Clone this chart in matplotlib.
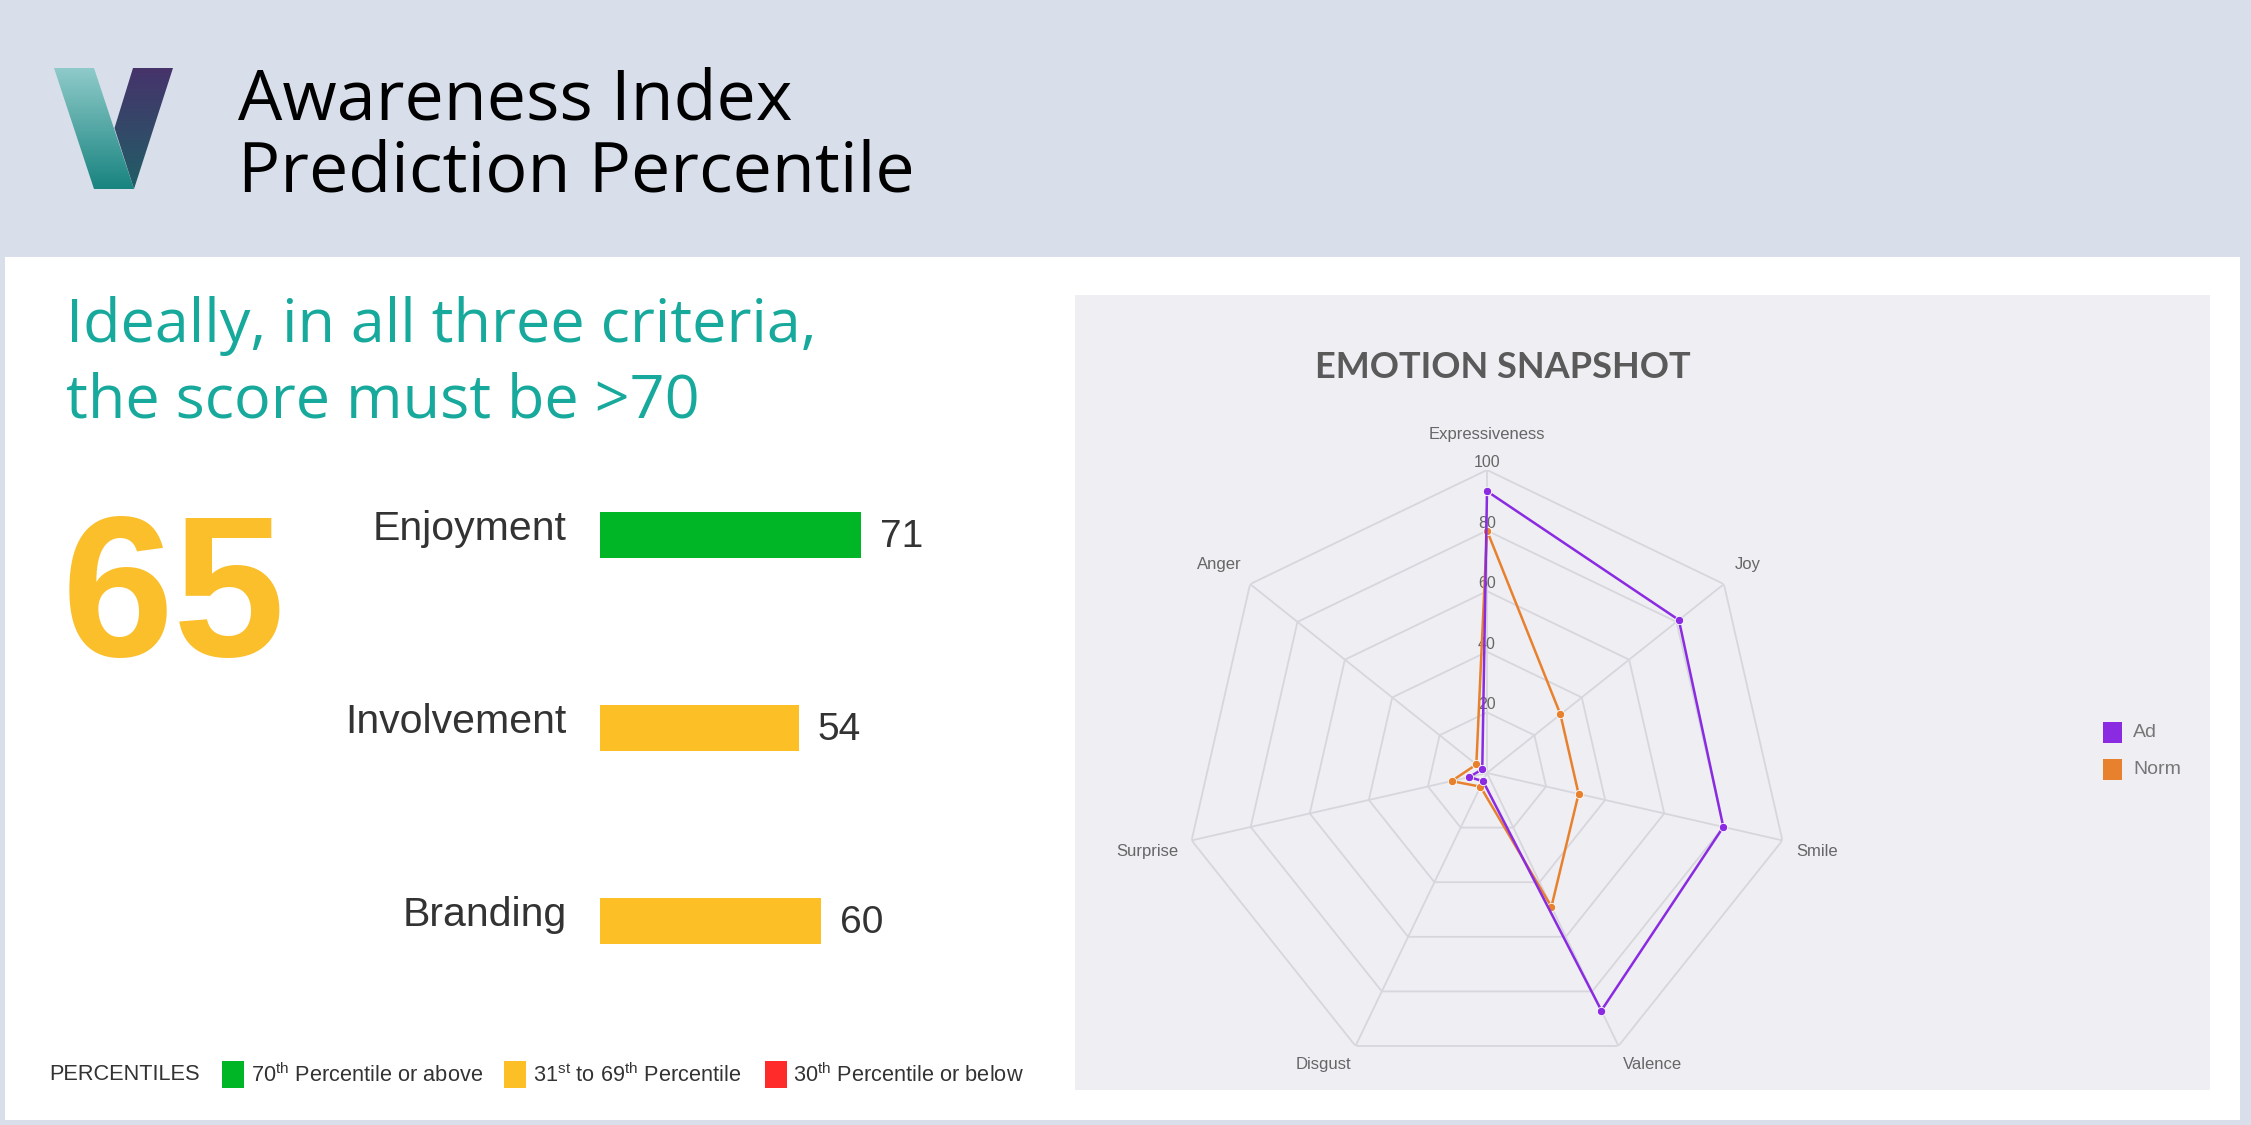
import numpy as np
import matplotlib
matplotlib.use("Agg")
import matplotlib.pyplot as plt
from matplotlib.patches import Rectangle, Polygon

# ---------------- data ----------------
title_lines = ["Awareness Index", "Prediction Percentile"]
subtitle_lines = ["Ideally, in all three criteria,", "the score must be >70"]
overall_score = 65
criteria = ["Enjoyment", "Involvement", "Branding"]
criteria_scores = [71, 54, 60]
legend_title = "PERCENTILES"
percentile_labels = [r"70$^{\mathrm{th}}$ Percentile or above",
                     r"31$^{\mathrm{st}}$ to 69$^{\mathrm{th}}$ Percentile",
                     r"30$^{\mathrm{th}}$ Percentile or below"]
radar_title = "EMOTION SNAPSHOT"
emotions = ["Expressiveness", "Joy", "Smile", "Valence", "Disgust", "Surprise", "Anger"]
ad_values = [93, 81, 80, 87, 3, 6, 2]
norm_values = [80, 31, 31, 49, 5, 12, 4.5]
radial_ticks = [20, 40, 60, 80, 100]
series_names = ["Ad", "Norm"]

# ---------------- style ----------------
W, H, DPI = 2251, 1125, 100
GREEN, YELLOW, RED = "#00B526", "#FDBF26", "#FF2A2A"
PURPLE, ORANGE = "#8A2BE2", "#E8812E"
TEAL = "#17A99B"

plt.rcParams["mathtext.fontset"] = "custom"
plt.rcParams["mathtext.rm"] = "Liberation Sans"
plt.rcParams["font.family"] = ["Liberation Sans", "DejaVu Sans"]

fig = plt.figure(figsize=(W / DPI, H / DPI), dpi=DPI)
fig.patch.set_facecolor("#D9DFEA")

bg = fig.add_axes([0, 0, 1, 1], zorder=0)
bg.axis("off")

# panels
bg.add_patch(Rectangle((5, 257), 2240 - 5, 1120 - 257, facecolor="white", edgecolor="none"))
bg.add_patch(Rectangle((1075, 295), 2210 - 1075, 1090 - 295, facecolor="#EEEEF3", edgecolor="none"))

# logo (gradient strokes)
def grad(c_top, c_bot, n=64):
    a = np.array(matplotlib.colors.to_rgba(c_top))
    b = np.array(matplotlib.colors.to_rgba(c_bot))
    t = np.linspace(0, 1, n)[:, None]
    return (a * (1 - t) + b * t)[:, None, :]

left_poly = Polygon([(54, 68), (94, 68), (134, 189), (94, 189)], closed=True, transform=bg.transData, facecolor="none", edgecolor="none")
right_poly = Polygon([(133, 68), (173, 68), (134, 189), (114.5, 128)], closed=True, transform=bg.transData, facecolor="none", edgecolor="none")
bg.add_patch(left_poly)
bg.add_patch(right_poly)
im1 = bg.imshow(grad("#8FCBCA", "#18837F"), extent=(50, 140, 190, 67), origin="upper", aspect="auto", zorder=1)
im1.set_clip_path(left_poly)
im2 = bg.imshow(grad("#46336B", "#215E66"), extent=(110, 176, 190, 67), origin="upper", aspect="auto", zorder=2)
im2.set_clip_path(right_poly)
bg.set_xlim(0, W)
bg.set_ylim(H, 0)

# titles
title_font = dict(family=["Open Sans", "DejaVu Sans"], color="black", fontsize=50.5)
bg.text(238, 119, title_lines[0], va="baseline", ha="left", **title_font)
bg.text(238, 191, title_lines[1], va="baseline", ha="left", **title_font)

sub_font = dict(family=["Open Sans", "DejaVu Sans"], color=TEAL, fontsize=44)
bg.text(66, 342, subtitle_lines[0], va="baseline", ha="left", **sub_font)
bg.text(66, 417, subtitle_lines[1], va="baseline", ha="left", **sub_font)

# big score
bg.text(62, 656, str(overall_score), va="baseline", ha="left", fontsize=145,
        fontweight="bold", color="#FBBF2C")

# ---------------- bars ----------------
px_per_unit = 3.68
bax = fig.add_axes([600 / W, (H - 1017.5) / H, 400 / W, 579 / H], zorder=2)
bax.set_xlim(0, 400 / px_per_unit)
bax.set_ylim(2.5, -0.5)
bax.axis("off")

def pct_color(v):
    if v >= 70:
        return GREEN
    if v > 30:
        return YELLOW
    return RED

ypos = np.arange(len(criteria))
bax.barh(ypos, criteria_scores, height=46 / 193, color=[pct_color(v) for v in criteria_scores])
for y, name, v in zip(ypos, criteria, criteria_scores):
    bax.text(-9, y - 0.03, name, ha="right", va="center", fontsize=29.5, color="#333333")
    bax.text(v + 5.2, y + 0.01, str(v), ha="left", va="center", fontsize=28, color="#333333")

# bottom legend
leg_fs = 15.7
bg.text(49, 1075, legend_title, va="center", ha="left", fontsize=leg_fs, color="#333333")
for x_sq, x_txt, col, lab in zip([222, 504, 765], [251, 533, 793], [GREEN, YELLOW, RED], percentile_labels):
    bg.add_patch(Rectangle((x_sq, 1061), 22, 27, facecolor=col, edgecolor="none"))
    bg.text(x_txt, 1075, lab, va="center", ha="left", fontsize=leg_fs, color="#333333")

# ---------------- radar ----------------
bg.text(1503, 368, radar_title, ha="center", va="center", fontsize=26, fontweight="bold",
        color="#5A5A5A", family=["Lato", "DejaVu Sans"])

cx, cy, R = 1487, 773, 303
rax = fig.add_axes([(cx - R) / W, (H - cy - R) / H, 2 * R / W, 2 * R / H], projection="polar", zorder=3)
rax.set_facecolor("none")
rax.set_theta_zero_location("N")
rax.set_theta_direction(-1)
rax.set_ylim(0, 100)
rax.grid(False)
rax.spines["polar"].set_visible(False)
rax.set_xticks([])
rax.set_yticks([])

n = len(emotions)
theta = np.arange(n) * 2 * np.pi / n
theta_c = np.append(theta, theta[0])
gcol = "#D6D6DC"
for r in radial_ticks:
    rax.plot(theta_c, [r] * (n + 1), color=gcol, lw=1.3, zorder=1)
for t in theta:
    rax.plot([t, t], [0, 100], color=gcol, lw=1.3, zorder=1)
for r in radial_ticks:
    rax.text(0, r + 2.5, str(r), ha="center", va="center", fontsize=11.5, color="#666666", zorder=2)

label_offsets = [(0, 36), (24, 20), (35, -11), (4, -19), (-4, -19), (-44, -11), (-31, 20)]
label_ha = ["center", "center", "center", "left", "right", "center", "center"]
for t, name, off, ha in zip(theta, emotions, label_offsets, label_ha):
    rax.annotate(name, xy=(t, 100), xytext=off, textcoords="offset pixels",
                 ha=ha, va="center", fontsize=12, color="#666666", annotation_clip=False)

ad_c = np.append(ad_values, ad_values[0])
norm_c = np.append(norm_values, norm_values[0])
rax.plot(theta_c, norm_c, color=ORANGE, lw=1.8, marker="o", markersize=6,
         markeredgecolor="white", markeredgewidth=0.6, zorder=4)
rax.plot(theta_c, ad_c, color=PURPLE, lw=1.8, marker="o", markersize=6,
         markeredgecolor="white", markeredgewidth=0.6, zorder=5)

# radar legend
for i, (name, col) in enumerate(zip(series_names, [PURPLE, ORANGE])):
    y0 = 722 + i * 37
    bg.add_patch(Rectangle((2103, y0), 19, 21, facecolor=col, edgecolor="none"))
    bg.text(2133, y0 + 10.5, name, va="center", ha="left", fontsize=14, color="#777777")

fig.savefig("out.png", dpi=DPI, facecolor=fig.get_facecolor())
